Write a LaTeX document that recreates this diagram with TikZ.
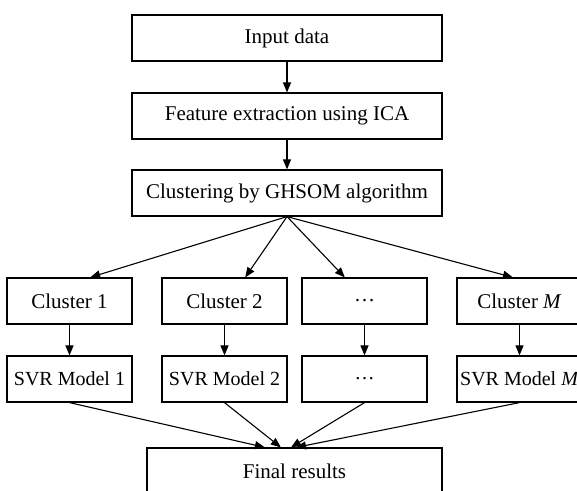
\documentclass[tikz,border=0pt]{standalone}
\usepackage{fontspec}
\setmainfont{Liberation Serif}
\usetikzlibrary{arrows.meta,calc}
\begin{document}
\begin{tikzpicture}[x=1pt,y=-1pt,
  box/.style={draw=black,line width=1.2pt,fill=white,minimum height=46pt,inner sep=0pt,
    font=\fontsize{21}{25}\selectfont},
  wide/.style={box,minimum width=310pt},
  small/.style={box,minimum width=125pt},
  svr/.style={small,font=\fontsize{20}{24}\selectfont},
  arr/.style={line width=1.1pt,-{Triangle[length=10pt,width=8pt]}}]
\useasboundingbox (0,0) rectangle (577,490);
\begin{scope}
\clip (0,0) rectangle (577,490);
\node[wide] (in) at (287,38) {Input data};
\node[wide] (fe) at (287,116) {Feature extraction using ICA};
\node[wide] (cl) at (287,193) {Clustering by GHSOM algorithm};
\node[small] (c1) at (69.5,301) {Cluster 1};
\node[small] (c2) at (224.5,301) {Cluster 2};
\node[small] (cd) at (364.5,301) {…};
\node[small] (cM) at (519.5,301) {Cluster \textit{M}};
\node[svr] (s1) at (69.5,379) {SVR Model 1};
\node[svr] (s2) at (224.5,379) {SVR Model 2};
\node[svr] (sd) at (364.5,379) {…};
\node[svr] (sM) at (519.5,379) {SVR Model \textit{M}};
\node[box,minimum width=295pt] (fr) at (294.5,471) {Final results};
\draw[arr] (in) -- (fe);
\draw[arr] (fe) -- (cl);
\draw[arr] (cl.south) -- ($(c1.north west)!0.664!(c1.north east)$);
\draw[arr] (cl.south) -- ($(c2.north west)!0.664!(c2.north east)$);
\draw[arr] (cl.south) -- ($(cd.north west)!0.344!(cd.north east)$);
\draw[arr] (cl.south) -- ($(cM.north west)!0.448!(cM.north east)$);
\draw[arr] (c1) -- (s1);
\draw[arr] (c2) -- (s2);
\draw[arr] (cd) -- (sd);
\draw[arr] (cM) -- (sM);
\draw[arr] (s1.south) -- ($(fr.north west)!0.40!(fr.north east)$);
\draw[arr] (s2.south) -- ($(fr.north west)!0.454!(fr.north east)$);
\draw[arr] (sd.south) -- ($(fr.north west)!0.488!(fr.north east)$);
\draw[arr] (sM.south) -- ($(fr.north west)!0.505!(fr.north east)$);
\end{scope}
\end{tikzpicture}
\end{document}
